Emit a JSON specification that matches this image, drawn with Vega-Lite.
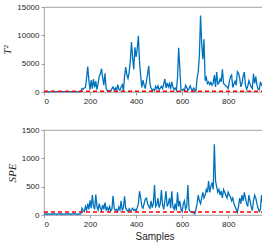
{
  "$schema": "https://vega.github.io/schema/vega-lite/v6.json",
  "padding": {"left": 1, "top": 2, "right": 1, "bottom": 2},
  "spacing": 19,
  "config": {
    "view": {"stroke": "#8a8a8a", "strokeWidth": 0.8},
    "axis": {"grid": false, "domain": false, "tickSize": 3, "tickColor": "#8a8a8a", "tickWidth": 0.8, "labelFont": "Liberation Sans", "labelFontSize": 8, "labelColor": "#262626", "labelPadding": 2, "titleColor": "#262626"}
  },
  "datasets": {
    "lim": [{"panel": "T2", "v": 150}, {"panel": "SPE", "v": 55}],
    "d": [
{"x":0,"t":60,"s":20},{"x":5,"t":40,"s":15},{"x":10,"t":80,"s":25},{"x":15,"t":50,"s":10},{"x":20,"t":70,"s":20},{"x":25,"t":40,"s":15},{"x":30,"t":60,"s":20},{"x":35,"t":90,"s":10},{"x":40,"t":50,"s":25},{"x":45,"t":70,"s":15},{"x":50,"t":40,"s":20},{"x":55,"t":60,"s":10},{"x":60,"t":80,"s":20},{"x":65,"t":50,"s":15},{"x":70,"t":60,"s":25},{"x":75,"t":40,"s":10},{"x":80,"t":70,"s":20},{"x":85,"t":50,"s":15},{"x":90,"t":60,"s":20},{"x":95,"t":80,"s":10},{"x":100,"t":40,"s":25},{"x":105,"t":60,"s":15},{"x":110,"t":50,"s":20},{"x":115,"t":70,"s":10},{"x":120,"t":60,"s":20},{"x":125,"t":40,"s":15},{"x":130,"t":80,"s":25},{"x":135,"t":50,"s":15},{"x":140,"t":60,"s":20},{"x":145,"t":70,"s":10},{"x":150,"t":40,"s":20},{"x":155,"t":60,"s":15},{"x":160,"t":90,"s":20},
{"x":165,"t":600,"s":120},{"x":170,"t":500,"s":80},{"x":175,"t":700,"s":60},{"x":180,"t":800,"s":150},{"x":185,"t":2500,"s":90},{"x":190,"t":4500,"s":200},{"x":195,"t":2000,"s":100},{"x":200,"t":400,"s":260},{"x":205,"t":2100,"s":120},{"x":210,"t":600,"s":350},{"x":215,"t":2300,"s":160},{"x":220,"t":800,"s":100},{"x":225,"t":1900,"s":360},{"x":230,"t":400,"s":150},{"x":235,"t":1500,"s":90},{"x":240,"t":2800,"s":200},{"x":245,"t":3200,"s":120},{"x":250,"t":4100,"s":80},{"x":255,"t":2500,"s":180},{"x":260,"t":1200,"s":100},{"x":265,"t":3300,"s":220},{"x":270,"t":600,"s":90},{"x":275,"t":300,"s":130},{"x":280,"t":150,"s":80},{"x":285,"t":250,"s":150},{"x":290,"t":150,"s":70},{"x":295,"t":600,"s":100},{"x":300,"t":900,"s":340},{"x":305,"t":300,"s":120},{"x":310,"t":700,"s":80},{"x":315,"t":200,"s":100},{"x":320,"t":1300,"s":60},{"x":325,"t":500,"s":140},{"x":330,"t":300,"s":90},{"x":335,"t":900,"s":250},{"x":340,"t":1300,"s":80},{"x":345,"t":200,"s":130},{"x":350,"t":2800,"s":330},{"x":355,"t":4400,"s":120},{"x":360,"t":3000,"s":90},{"x":365,"t":2400,"s":60},{"x":370,"t":3500,"s":110},{"x":375,"t":5500,"s":70},{"x":380,"t":8800,"s":90},{"x":385,"t":6000,"s":120},{"x":390,"t":4000,"s":80},{"x":395,"t":7900,"s":100},{"x":400,"t":6200,"s":70},{"x":405,"t":7600,"s":130},{"x":410,"t":9900,"s":200},{"x":415,"t":5300,"s":420},{"x":420,"t":2800,"s":300},{"x":425,"t":800,"s":150},{"x":430,"t":2100,"s":120},{"x":435,"t":1200,"s":200},{"x":440,"t":600,"s":280},{"x":445,"t":1900,"s":300},{"x":450,"t":3200,"s":200},{"x":455,"t":4600,"s":150},{"x":460,"t":1500,"s":120},{"x":465,"t":700,"s":250},{"x":470,"t":300,"s":130},{"x":475,"t":500,"s":200},{"x":480,"t":250,"s":530},{"x":485,"t":1000,"s":150},{"x":490,"t":600,"s":180},{"x":495,"t":1100,"s":300},{"x":500,"t":400,"s":130},{"x":505,"t":700,"s":200},{"x":510,"t":1000,"s":440},{"x":515,"t":600,"s":180},{"x":520,"t":1400,"s":100},{"x":525,"t":2300,"s":250},{"x":530,"t":700,"s":420},{"x":535,"t":1600,"s":150},{"x":540,"t":900,"s":200},{"x":545,"t":1500,"s":300},{"x":550,"t":500,"s":120},{"x":555,"t":1800,"s":420},{"x":560,"t":900,"s":150},{"x":565,"t":400,"s":100},{"x":570,"t":700,"s":200},{"x":575,"t":300,"s":80},{"x":580,"t":2500,"s":400},{"x":585,"t":7800,"s":150},{"x":590,"t":4200,"s":250},{"x":595,"t":400,"s":100},{"x":600,"t":250,"s":60},{"x":605,"t":500,"s":200},{"x":610,"t":200,"s":250},{"x":615,"t":1200,"s":100},{"x":620,"t":800,"s":150},{"x":625,"t":300,"s":530},{"x":630,"t":600,"s":100},{"x":635,"t":1100,"s":60},{"x":640,"t":500,"s":50},{"x":645,"t":200,"s":40},{"x":650,"t":700,"s":50},{"x":655,"t":400,"s":20},{"x":660,"t":150,"s":100},{"x":665,"t":2500,"s":200},{"x":670,"t":3500,"s":350},{"x":675,"t":6500,"s":250},{"x":680,"t":13500,"s":200},{"x":685,"t":8500,"s":300},{"x":690,"t":5800,"s":400},{"x":695,"t":9300,"s":300},{"x":700,"t":2000,"s":350},{"x":705,"t":2600,"s":450},{"x":710,"t":1500,"s":400},{"x":715,"t":1800,"s":600},{"x":720,"t":1300,"s":400},{"x":725,"t":1700,"s":500},{"x":730,"t":1200,"s":570},{"x":735,"t":1600,"s":450},{"x":740,"t":3000,"s":1250},{"x":745,"t":900,"s":600},{"x":750,"t":3500,"s":500},{"x":755,"t":1400,"s":400},{"x":760,"t":1600,"s":450},{"x":765,"t":2300,"s":350},{"x":770,"t":1800,"s":420},{"x":775,"t":4000,"s":300},{"x":780,"t":1500,"s":450},{"x":785,"t":1300,"s":400},{"x":790,"t":1100,"s":350},{"x":795,"t":900,"s":300},{"x":800,"t":600,"s":400},{"x":805,"t":1800,"s":350},{"x":810,"t":2700,"s":320},{"x":815,"t":3000,"s":250},{"x":820,"t":800,"s":300},{"x":825,"t":1400,"s":200},{"x":830,"t":1900,"s":150},{"x":835,"t":1200,"s":100},{"x":840,"t":3600,"s":50},{"x":845,"t":3300,"s":150},{"x":850,"t":2500,"s":300},{"x":855,"t":900,"s":200},{"x":860,"t":1500,"s":350},{"x":865,"t":2800,"s":250},{"x":870,"t":3500,"s":400},{"x":875,"t":1200,"s":300},{"x":880,"t":500,"s":200},{"x":885,"t":1000,"s":150},{"x":890,"t":2000,"s":350},{"x":895,"t":1400,"s":250},{"x":900,"t":900,"s":150},{"x":905,"t":600,"s":80},{"x":910,"t":3200,"s":250},{"x":915,"t":1500,"s":350},{"x":920,"t":2700,"s":300},{"x":925,"t":1200,"s":200},{"x":930,"t":500,"s":120},{"x":935,"t":400,"s":60},{"x":940,"t":1800,"s":100},{"x":945,"t":1200,"s":350},{"x":950,"t":1000,"s":200},{"x":955,"t":500,"s":380},{"x":960,"t":1500,"s":150}
    ]
  },
  "vconcat": [
    {
      "width": 221, "height": 85,
      "layer": [
        {"data": {"name": "d"},
         "mark": {"type": "line", "color": "#0072BD", "strokeWidth": 1.3},
         "encoding": {
           "x": {"field": "x", "type": "quantitative", "scale": {"domain": [0, 960], "nice": false}, "axis": {"values": [0, 200, 400, 600, 800], "title": null}},
           "y": {"field": "t", "type": "quantitative", "scale": {"domain": [0, 15000], "nice": false}, "axis": {"tickCount": 3, "format": "d", "labelOverlap": false, "title": "T²", "titleFont": "Liberation Serif", "titleFontStyle": "italic", "titleFontWeight": "normal", "titleFontSize": 11, "titlePadding": 4}}
         }},
        {"data": {"name": "lim"},
         "transform": [{"filter": "datum.panel === 'T2'"}],
         "mark": {"type": "rule", "color": "#FF0000", "strokeWidth": 1.5, "strokeDash": [4, 3]},
         "encoding": {"y": {"field": "v", "type": "quantitative"}}}
      ]
    },
    {
      "width": 221, "height": 85,
      "layer": [
        {"data": {"name": "d"},
         "mark": {"type": "line", "color": "#0072BD", "strokeWidth": 1.3},
         "encoding": {
           "x": {"field": "x", "type": "quantitative", "scale": {"domain": [0, 960], "nice": false}, "axis": {"values": [0, 200, 400, 600, 800], "title": "Samples", "titleFont": "Liberation Sans", "titleFontSize": 10, "titleFontWeight": "normal", "titlePadding": 3}},
           "y": {"field": "s", "type": "quantitative", "scale": {"domain": [0, 1500], "nice": false}, "axis": {"tickCount": 3, "format": "d", "labelOverlap": false, "title": "SPE", "titleFont": "Liberation Serif", "titleFontStyle": "italic", "titleFontWeight": "normal", "titleFontSize": 11, "titlePadding": 4}}
         }},
        {"data": {"name": "lim"},
         "transform": [{"filter": "datum.panel === 'SPE'"}],
         "mark": {"type": "rule", "color": "#FF0000", "strokeWidth": 1.5, "strokeDash": [4, 3]},
         "encoding": {"y": {"field": "v", "type": "quantitative"}}}
      ]
    }
  ]
}
